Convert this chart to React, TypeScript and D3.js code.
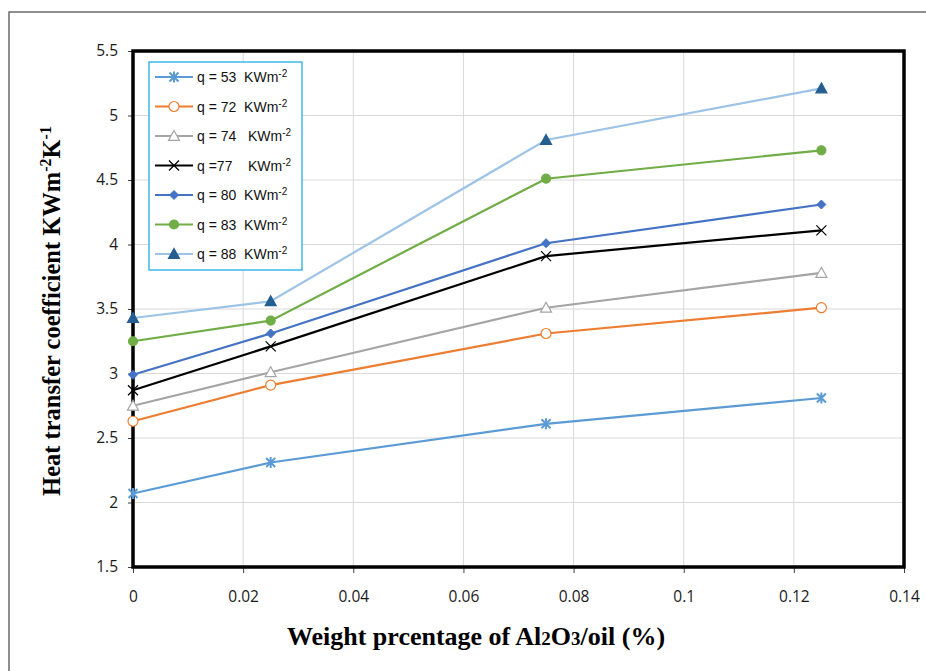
import React, { useEffect, useRef } from "react";
import * as d3 from "d3";

// Al2O3 weight percentages (x)
const weights = [0, 0.025, 0.075, 0.125];

const seriesNames = ["q53", "q72", "q74", "q77", "q80", "q83", "q88"];
const legendLabels = [
  ["q = 53  KWm", "-2"],
  ["q = 72  KWm", "-2"],
  ["q = 74   KWm", "-2"],
  ["q =77    KWm", "-2"],
  ["q = 80  KWm", "-2"],
  ["q = 83  KWm", "-2"],
  ["q = 88  KWm", "-2"],
];

const q53 = [2.07, 2.31, 2.61, 2.81];
const q72 = [2.63, 2.91, 3.31, 3.51];
const q74 = [2.75, 3.01, 3.51, 3.78];
const q77 = [2.87, 3.21, 3.91, 4.11];
const q80 = [2.99, 3.31, 4.01, 4.31];
const q83 = [3.25, 3.41, 4.51, 4.73];
const q88 = [3.43, 3.56, 4.81, 5.21];

const xTicks = [0, 0.02, 0.04, 0.06, 0.08, 0.1, 0.12, 0.14];
const yTicks = [1.5, 2, 2.5, 3, 3.5, 4, 4.5, 5, 5.5];

const values = [q53, q72, q74, q77, q80, q83, q88];
const lineColors = ["#5b9bd5", "#ed7d31", "#a5a5a5", "#000000", "#4472c4", "#70ad47", "#9dc3e6"];
const markerColors = ["#5b9bd5", "#ed7d31", "#a5a5a5", "#000000", "#4472c4", "#70ad47", "#255e91"];
const markerKinds = ["star", "ocircle", "otriangle", "x", "diamond", "circle", "triangle"];

const W = 926;
const H = 671;
const margin = { left: 133, top: 51, right: 22, bottom: 104 };

function drawMarker(g, kind, color, x, y) {
  if (kind === "star") {
    const s = 4.5;
    g.append("path")
      .attr("d", `M${x - s},${y - s}L${x + s},${y + s}M${x - s},${y + s}L${x + s},${y - s}M${x},${y - s - 1}L${x},${y + s + 1}`)
      .attr("stroke", color).attr("stroke-width", 2).attr("fill", "none");
  } else if (kind === "x") {
    const s = 5;
    g.append("path")
      .attr("d", `M${x - s},${y - s}L${x + s},${y + s}M${x - s},${y + s}L${x + s},${y - s}`)
      .attr("stroke", color).attr("stroke-width", 1.2).attr("fill", "none");
  } else if (kind === "ocircle" || kind === "circle") {
    g.append("circle").attr("cx", x).attr("cy", y).attr("r", kind === "circle" ? 4.5 : 5)
      .attr("fill", kind === "circle" ? color : "#fff")
      .attr("stroke", color).attr("stroke-width", 1.2);
  } else if (kind === "otriangle" || kind === "triangle") {
    const s = 5.5;
    g.append("path")
      .attr("d", `M${x},${y - s}L${x + s},${y + s * 0.8}L${x - s},${y + s * 0.8}Z`)
      .attr("fill", kind === "triangle" ? color : "#fff")
      .attr("stroke", color).attr("stroke-width", 1.2);
  } else if (kind === "diamond") {
    const s = 4.5;
    g.append("path")
      .attr("d", `M${x},${y - s}L${x + s},${y}L${x},${y + s}L${x - s},${y}Z`)
      .attr("fill", color).attr("stroke", color);
  }
}

export default function App() {
  const svgRef = useRef();

  useEffect(() => {
    document.body.style.margin = "0";
    const svg = d3.select(svgRef.current);
    svg.selectAll("*").remove();

    const x = d3.scaleLinear().domain([0, 0.14]).range([margin.left, W - margin.right]);
    const y = d3.scaleLinear().domain([1.5, 5.5]).range([H - margin.bottom, margin.top]);

    // outer frame
    svg.append("path")
      .attr("d", `M9,${H}L9,12L${W},12`)
      .attr("stroke", "#6b6b6b").attr("stroke-width", 1.5).attr("fill", "none");

    // gridlines
    const grid = svg.append("g");
    grid.selectAll(".vg").data(xTicks).enter().append("line")
      .attr("x1", (d) => x(d)).attr("x2", (d) => x(d))
      .attr("y1", y(1.5)).attr("y2", y(5.5))
      .attr("stroke", "#d9d9d9").attr("stroke-width", 1);
    grid.selectAll(".hg").data(yTicks).enter().append("line")
      .attr("x1", x(0)).attr("x2", x(0.14))
      .attr("y1", (d) => y(d)).attr("y2", (d) => y(d))
      .attr("stroke", "#d9d9d9").attr("stroke-width", 1);

    // axes with outward ticks
    const xAxis = svg.append("g")
      .attr("transform", `translate(0,${y(1.5)})`)
      .call(d3.axisBottom(x).tickValues(xTicks).tickSize(6).tickFormat((d) => String(d)));
    xAxis.select(".domain").remove();
    xAxis.selectAll("line").attr("stroke", "#404040");
    xAxis.selectAll("text")
      .attr("y", 24).attr("dy", "0.71em")
      .style("font-family", "'Open Sans', sans-serif").style("font-size", "15.5px").attr("fill", "#1a1a1a");

    const yAxis = svg.append("g")
      .attr("transform", `translate(${x(0)},0)`)
      .call(d3.axisLeft(y).tickValues(yTicks).tickSize(5).tickFormat((d) => String(d)));
    yAxis.select(".domain").remove();
    yAxis.selectAll("line").attr("stroke", "#404040");
    yAxis.selectAll("text")
      .attr("x", -15)
      .style("font-family", "'Open Sans', sans-serif").style("font-size", "15.5px").attr("fill", "#1a1a1a");

    // heavy plot border
    svg.append("rect")
      .attr("x", x(0)).attr("y", y(5.5))
      .attr("width", x(0.14) - x(0)).attr("height", y(1.5) - y(5.5))
      .attr("fill", "none").attr("stroke", "#000").attr("stroke-width", 3.5);

    // series
    const line = d3.line().x((d) => x(d[0])).y((d) => y(d[1]));
    values.forEach((vals, i) => {
      const pts = weights.map((w, j) => [w, vals[j]]);
      const g = svg.append("g").attr("class", seriesNames[i]);
      g.append("path").datum(pts).attr("d", line)
        .attr("fill", "none").attr("stroke", lineColors[i]).attr("stroke-width", 2.2);
      pts.forEach((p) => drawMarker(g, markerKinds[i], markerColors[i], x(p[0]), y(p[1])));
    });

    // legend
    const lg = svg.append("g");
    lg.append("rect").attr("x", 149).attr("y", 62).attr("width", 153).attr("height", 208)
      .attr("fill", "#fff").attr("stroke", "#3fb6ea").attr("stroke-width", 1.5);
    legendLabels.forEach((lab, i) => {
      const yy = 77 + i * 29.5;
      lg.append("line").attr("x1", 155).attr("x2", 193).attr("y1", yy).attr("y2", yy)
        .attr("stroke", lineColors[i]).attr("stroke-width", 2.2);
      drawMarker(lg, markerKinds[i], markerColors[i], 174, yy);
      const t = lg.append("text").attr("x", 197).attr("y", yy + 5)
        .attr("xml:space", "preserve")
        .style("font-family", "'Liberation Sans', Arial, sans-serif").style("font-size", "14px").attr("fill", "#111");
      t.append("tspan").text(lab[0]);
      t.append("tspan").attr("dy", -5).style("font-size", "10px").text(lab[1]);
    });

    // axis titles
    const xt = svg.append("text")
      .attr("x", 476).attr("y", 645)
      .attr("text-anchor", "middle")
      .style("font-family", "'Liberation Serif', 'Times New Roman', serif")
      .style("font-size", "26px").style("font-weight", "bold");
    xt.append("tspan").text("Weight prcentage of Al");
    xt.append("tspan").style("font-size", "19px").text("2");
    xt.append("tspan").text("O");
    xt.append("tspan").style("font-size", "19px").text("3");
    xt.append("tspan").text("/oil (%)");

    const yt = svg.append("text")
      .attr("transform", `translate(60,311) rotate(-90)`)
      .attr("text-anchor", "middle")
      .style("font-family", "'Liberation Serif', 'Times New Roman', serif")
      .style("font-size", "24.5px").style("font-weight", "bold");
    yt.append("tspan").text("Heat transfer coefficient KWm");
    yt.append("tspan").attr("dy", -9).style("font-size", "16px").text("-2");
    yt.append("tspan").attr("dy", 9).text("K");
    yt.append("tspan").attr("dy", -9).style("font-size", "16px").text("-1");
  }, []);

  return <svg ref={svgRef} width={W} height={H} style={{ display: "block", background: "#fff" }}></svg>;
}
